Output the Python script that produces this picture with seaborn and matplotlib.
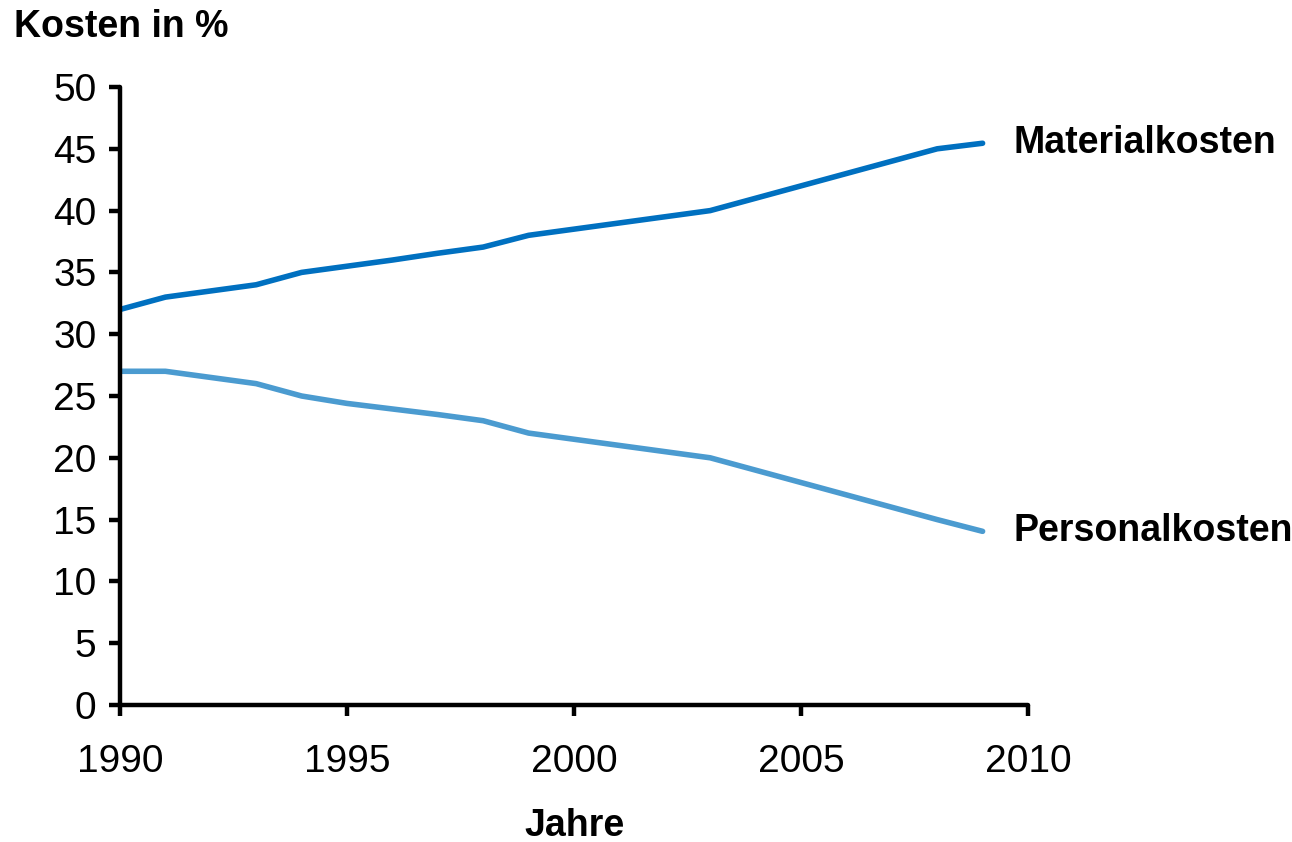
import matplotlib
matplotlib.use("Agg")
import matplotlib.pyplot as plt
import seaborn as sns
import pandas as pd

# Cost shares in percent, 1990-2009
years = list(range(1990, 2010))
material = [32.0, 33.0, 33.5, 34.0, 35.0, 35.5, 36.0, 36.55, 37.05, 38.0,
            38.5, 39.0, 39.5, 40.0, 41.0, 42.0, 43.0, 44.0, 45.0, 45.45]
personal = [27.0, 27.0, 26.5, 26.0, 25.0, 24.4, 23.95, 23.5, 23.0, 22.0,
            21.5, 21.0, 20.5, 20.0, 19.0, 18.0, 17.0, 16.0, 15.0, 14.05]
series_names = ["Materialkosten", "Personalkosten"]
series_colors = ["#0070C0", "#4B9BD0"]
x_ticks = [1990, 1995, 2000, 2005, 2010]
y_ticks = list(range(0, 55, 5))

df = pd.DataFrame({
    "Jahr": years * 2,
    "Wert": material + personal,
    "Art": [series_names[0]] * len(years) + [series_names[1]] * len(years),
})

sns.set_theme(style="white")
plt.rcParams["font.family"] = ["Liberation Sans", "DejaVu Sans"]
plt.rcParams["text.color"] = "black"

fig = plt.figure(figsize=(12.92, 8.42), dpi=100)
ax = fig.add_axes([120 / 1292, 1 - 705 / 842, (1028 - 120) / 1292, (705 - 87) / 842])

sns.lineplot(data=df, x="Jahr", y="Wert", hue="Art", palette=series_colors,
             linewidth=4, ax=ax, legend=False, solid_capstyle="round")

ax.set_xlim(1990, 2010)
ax.set_ylim(0, 50)
ax.set_xticks(x_ticks)
ax.set_yticks(y_ticks)
ax.tick_params(axis="both", which="major", labelsize=28, length=8, width=3.2,
               direction="out", color="black", labelcolor="black",
               bottom=True, left=True)
ax.tick_params(axis="x", pad=20)
ax.tick_params(axis="y", pad=9)
for s in ["top", "right"]:
    ax.spines[s].set_visible(False)
for s in ["left", "bottom"]:
    ax.spines[s].set_color("black")
    ax.spines[s].set_linewidth(3.2)
    ax.spines[s].set_capstyle("round")
ax.set_xlabel("")
ax.set_ylabel("")

# Series labels at the line ends
ax.text(2009.67, material[-1], series_names[0], fontsize=27, fontweight="bold",
        va="center", ha="left", color="black", clip_on=False)
ax.text(2009.67, personal[-1], series_names[1], fontsize=27, fontweight="bold",
        va="center", ha="left", color="black", clip_on=False)

fig.text(14 / 1292, 1 - 27 / 842, "Kosten in %", fontsize=27, fontweight="bold",
         va="center", ha="left", color="black")
fig.text(575 / 1292, 1 - 826 / 842, "Jahre", fontsize=27, fontweight="bold",
         va="center", ha="center", color="black")

fig.savefig("out.png", dpi=100, facecolor="white")
